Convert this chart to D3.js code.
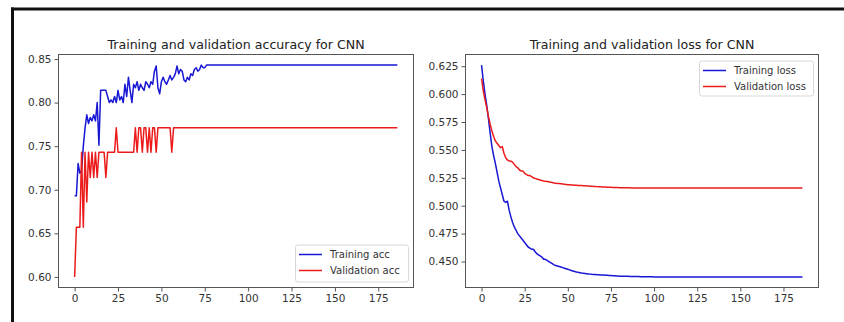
<!DOCTYPE html>
<html><head><meta charset="utf-8">
<script src="https://cdn.jsdelivr.net/npm/d3@7"></script>
<style>
html,body{margin:0;padding:0;background:#fff;}
svg{display:block;font-family:"DejaVu Sans",sans-serif;}
</style></head>
<body>
<svg id="c" width="844" height="322"></svg>
<script>
// ---- data (index = epoch 0..186) ----
const trainAcc = [
0.693,0.693,0.730,0.719,0.722,0.750,0.771,0.786,0.776,0.783,
0.779,0.786,0.779,0.800,0.751,0.814,0.814,0.814,0.814,0.807,
0.800,0.803,0.800,0.807,0.800,0.814,0.803,0.807,0.800,0.821,
0.807,0.829,0.814,0.800,0.821,0.817,0.824,0.814,0.821,0.817,
0.814,0.824,0.821,0.817,0.824,0.821,0.836,0.842,0.817,0.810,
0.824,0.829,0.824,0.821,0.826,0.831,0.826,0.829,0.833,0.842,
0.833,0.838,0.836,0.826,0.824,0.829,0.826,0.833,0.831,0.838,
0.840,0.836,0.838,0.843,0.840,0.840,0.843,0.843,0.843,0.843,
0.843,0.843,0.843,0.843,0.843,0.843,0.843,0.843,0.843,0.843,
0.843,0.843,0.843,0.843,0.843,0.843,0.843,0.843,0.843,0.843,
0.843,0.843,0.843,0.843,0.843,0.843,0.843,0.843,0.843,0.843,
0.843,0.843,0.843,0.843,0.843,0.843,0.843,0.843,0.843,0.843,
0.843,0.843,0.843,0.843,0.843,0.843,0.843,0.843,0.843,0.843,
0.843,0.843,0.843,0.843,0.843,0.843,0.843,0.843,0.843,0.843,
0.843,0.843,0.843,0.843,0.843,0.843,0.843,0.843,0.843,0.843,
0.843,0.843,0.843,0.843,0.843,0.843,0.843,0.843,0.843,0.843,
0.843,0.843,0.843,0.843,0.843,0.843,0.843,0.843,0.843,0.843,
0.843,0.843,0.843,0.843,0.843,0.843,0.843,0.843,0.843,0.843,
0.843,0.843,0.843,0.843,0.843,0.843,0.843
];
const valAcc = [
0.600,0.657,0.657,0.657,0.743,0.657,0.743,0.686,0.743,0.714,
0.743,0.714,0.743,0.714,0.743,0.743,0.743,0.743,0.714,0.743,
0.743,0.743,0.743,0.743,0.771,0.743,0.743,0.743,0.743,0.743,
0.743,0.743,0.743,0.743,0.743,0.771,0.743,0.771,0.771,0.743,
0.771,0.771,0.743,0.771,0.743,0.771,0.771,0.743,0.771,0.771,
0.771,0.771,0.771,0.771,0.771,0.771,0.743,0.771,0.771,0.771,
0.771,0.771,0.771,0.771,0.771,0.771,0.771,0.771,0.771,0.771,
0.771,0.771,0.771,0.771,0.771,0.771,0.771,0.771,0.771,0.771,
0.771,0.771,0.771,0.771,0.771,0.771,0.771,0.771,0.771,0.771,
0.771,0.771,0.771,0.771,0.771,0.771,0.771,0.771,0.771,0.771,
0.771,0.771,0.771,0.771,0.771,0.771,0.771,0.771,0.771,0.771,
0.771,0.771,0.771,0.771,0.771,0.771,0.771,0.771,0.771,0.771,
0.771,0.771,0.771,0.771,0.771,0.771,0.771,0.771,0.771,0.771,
0.771,0.771,0.771,0.771,0.771,0.771,0.771,0.771,0.771,0.771,
0.771,0.771,0.771,0.771,0.771,0.771,0.771,0.771,0.771,0.771,
0.771,0.771,0.771,0.771,0.771,0.771,0.771,0.771,0.771,0.771,
0.771,0.771,0.771,0.771,0.771,0.771,0.771,0.771,0.771,0.771,
0.771,0.771,0.771,0.771,0.771,0.771,0.771,0.771,0.771,0.771,
0.771,0.771,0.771,0.771,0.771,0.771,0.771
];
const trainLoss = [
0.626,0.612,0.600,0.590,0.578,0.565,0.553,0.545,0.538,0.530,
0.522,0.516,0.510,0.504,0.503,0.504,0.496,0.490,0.485,0.481,
0.478,0.475,0.473,0.471,0.469,0.467,0.465,0.463,0.462,0.461,
0.461,0.459,0.457,0.456,0.455,0.454,0.452,0.452,0.451,0.450,
0.449,0.448,0.447,0.4465,0.446,0.4455,0.445,0.4445,0.444,0.4435,
0.443,0.4425,0.442,0.4415,0.441,0.4406,0.4403,0.4400,0.4397,0.4395,
0.4393,0.4391,0.4389,0.4387,0.4385,0.4384,0.4383,0.4382,0.4381,0.4380,
0.4379,0.4378,0.4377,0.4376,0.4375,0.4374,0.4373,0.4372,0.4371,0.4370,
0.4369,0.4369,0.4368,0.4368,0.4367,0.4367,0.4366,0.4366,0.4366,0.4365,
0.4365,0.4365,0.4364,0.4364,0.4364,0.4364,0.4363,0.4363,0.4363,0.4363,
0.4362,0.4362,0.4362,0.4362,0.4362,0.4362,0.4362,0.4362,0.4362,0.4362,
0.4362,0.4362,0.4362,0.4362,0.4362,0.4362,0.4362,0.4362,0.4362,0.4362,
0.4362,0.4362,0.4362,0.4362,0.4362,0.4362,0.4362,0.4362,0.4362,0.4362,
0.4362,0.4362,0.4362,0.4362,0.4362,0.4362,0.4362,0.4362,0.4362,0.4362,
0.4362,0.4362,0.4362,0.4362,0.4362,0.4362,0.4362,0.4362,0.4362,0.4362,
0.4362,0.4362,0.4362,0.4362,0.4362,0.4362,0.4362,0.4362,0.4362,0.4362,
0.4362,0.4362,0.4362,0.4362,0.4362,0.4362,0.4362,0.4362,0.4362,0.4362,
0.4362,0.4362,0.4362,0.4362,0.4362,0.4362,0.4362,0.4362,0.4362,0.4362,
0.4362,0.4362,0.4362,0.4362,0.4362,0.4362,0.4362
];
const valLoss = [
0.614,0.603,0.595,0.588,0.580,0.573,0.567,0.562,0.558,0.556,
0.554,0.552,0.553,0.547,0.543,0.541,0.540,0.540,0.539,0.537,
0.535,0.534,0.532,0.531,0.531,0.529,0.528,0.527,0.527,0.526,
0.525,0.5245,0.524,0.5235,0.523,0.5225,0.5222,0.522,0.5217,0.5214,
0.521,0.5207,0.5204,0.5202,0.520,0.5198,0.5196,0.5194,0.5192,0.519,
0.5188,0.5187,0.5186,0.5185,0.5184,0.5183,0.5182,0.5181,0.5180,0.5179,
0.5178,0.5177,0.5176,0.5175,0.5174,0.5173,0.5172,0.5171,0.5170,0.5169,
0.5168,0.5167,0.5167,0.5166,0.5165,0.5165,0.5164,0.5164,0.5163,0.5163,
0.5162,0.5162,0.5161,0.5161,0.5160,0.5160,0.5160,0.5159,0.5159,0.5159,
0.5159,0.5158,0.5158,0.5158,0.5158,0.5158,0.5158,0.5158,0.5158,0.5158,
0.5158,0.5158,0.5158,0.5158,0.5158,0.5158,0.5158,0.5158,0.5158,0.5158,
0.5158,0.5158,0.5158,0.5158,0.5158,0.5158,0.5158,0.5158,0.5158,0.5158,
0.5158,0.5158,0.5158,0.5158,0.5158,0.5158,0.5158,0.5158,0.5158,0.5158,
0.5158,0.5158,0.5158,0.5158,0.5158,0.5158,0.5158,0.5158,0.5158,0.5158,
0.5158,0.5158,0.5158,0.5158,0.5158,0.5158,0.5158,0.5158,0.5158,0.5158,
0.5158,0.5158,0.5158,0.5158,0.5158,0.5158,0.5158,0.5158,0.5158,0.5158,
0.5158,0.5158,0.5158,0.5158,0.5158,0.5158,0.5158,0.5158,0.5158,0.5158,
0.5158,0.5158,0.5158,0.5158,0.5158,0.5158,0.5158,0.5158,0.5158,0.5158,
0.5158,0.5158,0.5158,0.5158,0.5158,0.5158,0.5158
];
const xTicks = [0,25,50,75,100,125,150,175];
const accTicks = [0.60,0.65,0.70,0.75,0.80,0.85];
const lossTicks = [0.450,0.475,0.500,0.525,0.550,0.575,0.600,0.625];
const accTitle = "Training and validation accuracy for CNN";
const lossTitle = "Training and validation loss for CNN";
const accLabels = ["Training acc","Validation acc"];
const lossLabels = ["Training loss","Validation loss"];

// ---- drawing ----
const BLUE = "#1717d4", RED = "#ec1b1b";
const svg = d3.select("#c");
svg.append("rect").attr("width",844).attr("height",322).attr("fill","#fff");
// outer frame of the screenshot
svg.append("line").attr("x1",11).attr("x2",844).attr("y1",9).attr("y2",9).attr("stroke","#111").attr("stroke-width",3);
svg.append("line").attr("x1",12.5).attr("x2",12.5).attr("y1",7.5).attr("y2",322).attr("stroke","#111").attr("stroke-width",3);

function panel(o){
  const g = svg.append("g");
  const n = o.s1.length;
  const xs = d3.scaleLinear().domain([-(n-1)*0.05,(n-1)*1.05]).range([o.x0,o.x1]);
  const all = o.s1.concat(o.s2);
  const [mn,mx] = d3.extent(all);
  const m = (mx-mn)*0.05;
  const ys = d3.scaleLinear().domain([mn-m,mx+m]).range([o.y1,o.y0]);
  const line = d3.line().x((d,i)=>xs(i)).y(d=>ys(d));
  g.append("path").datum(o.s1).attr("d",line).attr("fill","none").attr("stroke",BLUE).attr("stroke-width",1.5).attr("stroke-linejoin","round");
  g.append("path").datum(o.s2).attr("d",line).attr("fill","none").attr("stroke",RED).attr("stroke-width",1.5).attr("stroke-linejoin","round");
  // frame
  g.append("rect").attr("x",o.x0).attr("y",o.y0).attr("width",o.x1-o.x0).attr("height",o.y1-o.y0)
    .attr("fill","none").attr("stroke","#555").attr("stroke-width",1);
  const ax = g.append("g").attr("transform",`translate(0,${o.y1})`)
    .call(d3.axisBottom(xs).tickValues(xTicks).tickSize(4).tickPadding(3).tickFormat(d3.format("d")));
  const ay = g.append("g").attr("transform",`translate(${o.x0},0)`)
    .call(d3.axisLeft(ys).tickValues(o.ticks).tickSize(4).tickPadding(3).tickFormat(d3.format(o.fmt)));
  [ax,ay].forEach(a=>{
    a.select(".domain").remove();
    a.selectAll("line").attr("stroke","#555");
    a.selectAll("text").attr("fill","#333").attr("font-size","10.5px").attr("font-family","DejaVu Sans");
  });
  g.append("text").attr("x",(o.x0+o.x1)/2).attr("y",49).attr("text-anchor","middle")
    .attr("font-size","12.6px").attr("fill","#222").text(o.title);
  // legend
  const L = o.leg;
  g.append("rect").attr("x",L.x).attr("y",L.y).attr("width",L.w).attr("height",L.h).attr("rx",2.5)
    .attr("fill","#fff").attr("fill-opacity",0.8).attr("stroke","#d8d8d8").attr("stroke-width",1);
  [[BLUE,o.labels[0]],[RED,o.labels[1]]].forEach((c,i)=>{
    const yy = L.y + 9.5 + i*16;
    g.append("line").attr("x1",L.x+3.5).attr("x2",L.x+26.5).attr("y1",yy).attr("y2",yy).attr("stroke",c[0]).attr("stroke-width",1.5);
    g.append("text").attr("x",L.x+34.5).attr("y",yy+3.6).attr("font-size","10px").attr("fill","#333").text(c[1]);
  });
}
panel({s1:trainAcc,s2:valAcc,x0:58.5,x1:413.5,y0:54.5,y1:287.5,ticks:accTicks,fmt:".2f",title:accTitle,labels:accLabels,
  leg:{x:295.5,y:245,w:113,h:37}});
panel({s1:trainLoss,s2:valLoss,x0:465.5,x1:818.5,y0:54.5,y1:287.5,ticks:lossTicks,fmt:".3f",title:lossTitle,labels:lossLabels,
  leg:{x:699.5,y:61,w:114,h:35}});
</script>
</body></html>
